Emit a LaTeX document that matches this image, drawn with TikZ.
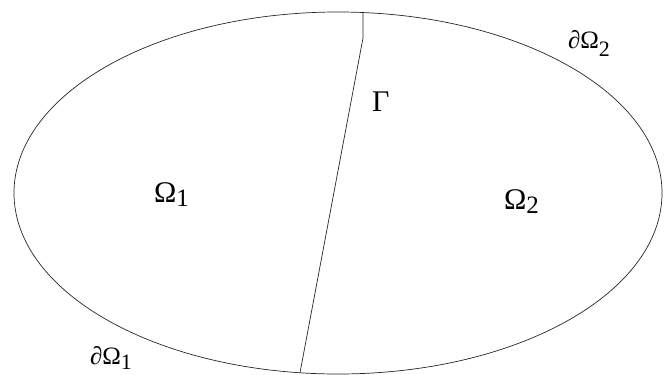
\documentclass[tikz,border=0pt]{standalone}
\usepackage{fontspec}
\setmainfont{Liberation Serif}
\newfontfamily\tms{Liberation Serif}
\usetikzlibrary{shapes.geometric}
\newcommand\lowsub[3]{\raisebox{-#2}{\fontsize{#1}{#1}\selectfont #3}}
\tikzset{
  lbl/.style={anchor=base west, inner sep=0pt, outer sep=0pt},
  bigl/.style={lbl, font=\tms\fontsize{30bp}{30bp}\selectfont},
  smalll/.style={lbl, font=\tms\fontsize{25bp}{25bp}\selectfont},
  edge/.style={draw=black!85, line width=0.7bp}
}
\begin{document}
\begin{tikzpicture}[x=1bp,y=-1bp]
\useasboundingbox (0,0) rectangle (670,374);
\node[ellipse, edge, minimum width=648bp, minimum height=362bp, inner sep=0pt] (dom) at (338,193) {};
\coordinate (gtop) at (363,12.5);
\coordinate (gbend) at (363,38);
\coordinate (gbot) at (300,372.7);
\draw[edge] (gtop) -- (gbend) -- (gbot);
\node[bigl] (om1) at (154,202) {Ω\lowsub{25bp}{4bp}{1}};
\node[bigl] (om2) at (504,209) {Ω\lowsub{25bp}{4bp}{2}};
\node[bigl] (gam) at (372,111) {Γ};
\node[smalll] (bd2) at (568,48) {∂Ω\lowsub{22bp}{8bp}{2}};
\node[smalll] (bd1) at (90,364) {∂Ω\lowsub{22bp}{5bp}{1}};
\end{tikzpicture}
\end{document}
